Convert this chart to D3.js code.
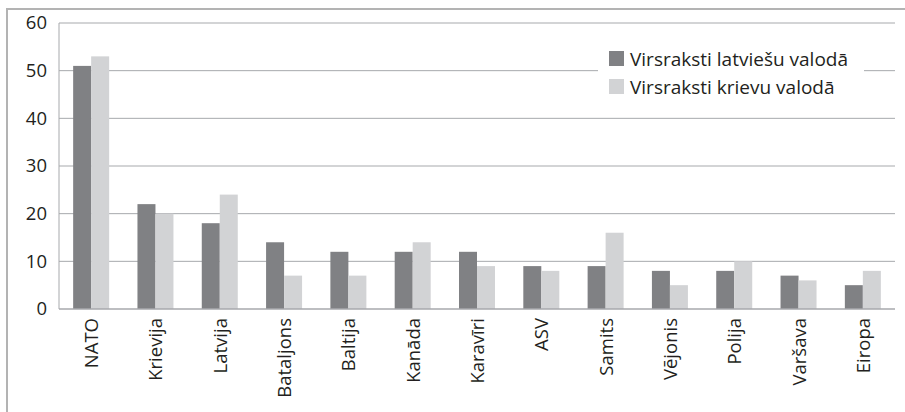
<!DOCTYPE html>
<html>
<head>
<meta charset="utf-8">
<script src="https://cdn.jsdelivr.net/npm/d3@7"></script>
<style>
  body { margin: 0; background: #fff; }
  svg text { font-family: "Open Sans", "Noto Sans", sans-serif; fill: #231f20; }
</style>
</head>
<body>
<svg id="chart" width="905" height="412"></svg>
<script>
const categories = ["NATO", "Krievija", "Latvija", "Bataljons", "Baltija", "Kanāda", "Karavīri", "ASV", "Samits", "Vējonis", "Polija", "Varšava", "Eiropa"];
const latvian = [51, 22, 18, 14, 12, 12, 12, 9, 9, 8, 8, 7, 5];
const russian = [53, 20, 24, 7, 7, 14, 9, 8, 16, 5, 10, 6, 8];
const seriesNames = ["Virsraksti latviešu valodā", "Virsraksti krievu valodā"];
const seriesColors = ["#808184", "#d2d3d5"];
const yTicks = [0, 10, 20, 30, 40, 50, 60];

const svg = d3.select("#chart");
const plotL = 59, plotR = 895, plotT = 23, plotB = 309;
const fs = 18.5;

// outer frame (runs off the right and bottom edge)
svg.append("path")
  .attr("d", `M7,420 L7,9 L910,9`)
  .attr("fill", "none")
  .attr("stroke", "#b3b3b3")
  .attr("stroke-width", 2);

const x = d3.scaleBand().domain(categories).range([plotL, plotR]);
const y = d3.scaleLinear().domain([0, 60]).range([plotB, plotT]);
const bw = 18;

// gridlines
svg.append("g").selectAll("line")
  .data(yTicks.filter(d => d > 0))
  .join("line")
  .attr("x1", plotL).attr("x2", plotR)
  .attr("y1", d => y(d)).attr("y2", d => y(d))
  .attr("stroke", "#a7a9ac").attr("stroke-width", 1);

// bars
const rows = categories.map((c, i) => ({ c, v: [latvian[i], russian[i]] }));
seriesNames.forEach((s, k) => {
  svg.append("g").selectAll("rect")
    .data(rows)
    .join("rect")
    .attr("x", d => x(d.c) + x.bandwidth() / 2 - bw + k * bw)
    .attr("y", d => y(d.v[k]))
    .attr("width", bw)
    .attr("height", d => y(0) - y(d.v[k]))
    .attr("fill", seriesColors[k]);
});

// axes lines
svg.append("line").attr("x1", plotL).attr("x2", plotL).attr("y1", plotT).attr("y2", plotB)
  .attr("stroke", "#a7a9ac");
svg.append("line").attr("x1", plotL).attr("x2", plotR).attr("y1", plotB).attr("y2", plotB)
  .attr("stroke", "#a7a9ac").attr("stroke-width", 1.5);

// y tick labels
svg.append("g").selectAll("text")
  .data(yTicks)
  .join("text")
  .attr("x", 47)
  .attr("y", d => y(d))
  .attr("dy", "0.35em")
  .attr("text-anchor", "end")
  .attr("font-size", fs)
  .text(d => d);

// x labels
svg.append("g").selectAll("text")
  .data(categories)
  .join("text")
  .attr("transform", d => `translate(${x(d) + x.bandwidth() / 2 + 7},318) rotate(-90)`)
  .attr("text-anchor", "end")
  .attr("font-size", fs)
  .text(d => d);

// legend
const lg = svg.append("g");
lg.append("rect").attr("x", 598).attr("y", 44).attr("width", 266).attr("height", 56).attr("fill", "#fff");
seriesNames.forEach((s, k) => {
  lg.append("rect").attr("x", 609).attr("y", 51 + k * 28).attr("width", 15).attr("height", 15)
    .attr("fill", seriesColors[k]);
  lg.append("text").attr("x", 630).attr("y", 66 + k * 28)
    .attr("font-size", 19).text(s);
});
</script>
</body>
</html>
